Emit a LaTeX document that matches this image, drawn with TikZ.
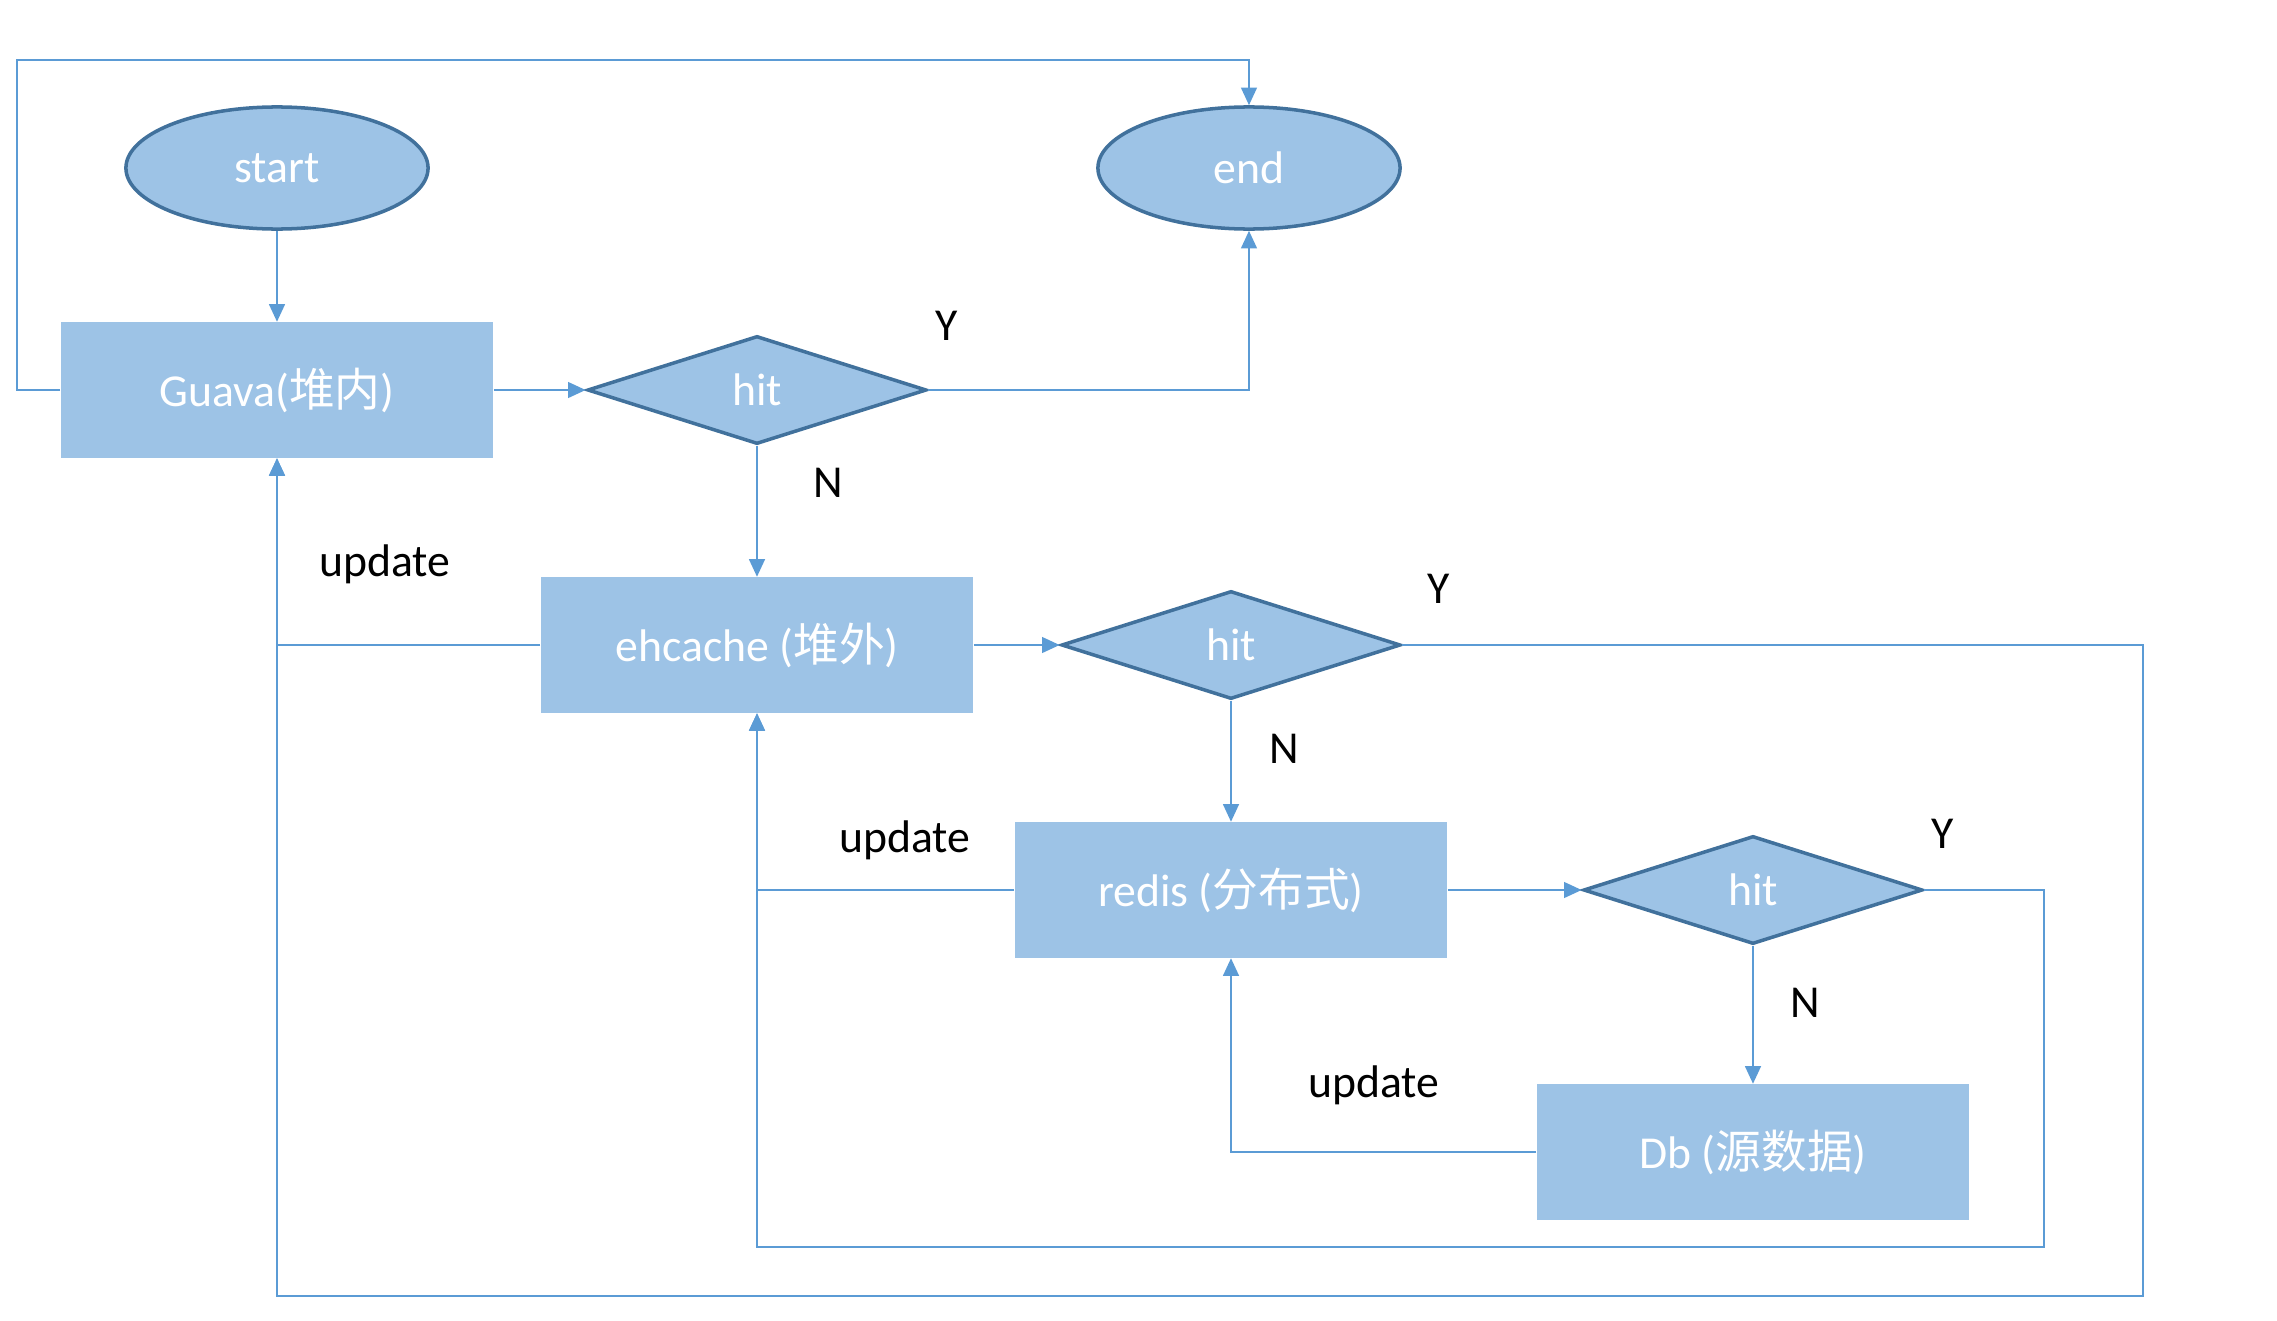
\documentclass[tikz,border=0pt]{standalone}
\usepackage{fontspec}
\setmainfont{Carlito}
\newfontfamily\cjk{Noto Sans CJK SC}
\usetikzlibrary{shapes.geometric,arrows.meta}
\definecolor{boxfill}{HTML}{9DC3E6}
\definecolor{boxline}{HTML}{41719C}
\definecolor{flowline}{HTML}{5B9BD5}
\tikzstyle{every picture} = [x=0.01cm, y=-0.01cm]
\tikzstyle{terminal} = [ellipse, draw=boxline, line width=1pt, fill=boxfill, text=white, minimum width=3.02cm, minimum height=1.22cm, font=\fontsize{13}{15}\selectfont]
\tikzstyle{box} = [rectangle, fill=boxfill, text=white, minimum width=4.32cm, minimum height=1.35cm, font=\fontsize{13}{15}\selectfont]
\tikzstyle{decision} = [diamond, draw=boxline, line width=1pt, fill=boxfill, text=white, inner sep=0pt, minimum width=3.39cm, minimum height=1.08cm, font=\fontsize{13}{15}\selectfont]
\tikzstyle{flow} = [draw=flowline, line width=0.5pt, -{Triangle[length=5pt,width=4.5pt]}]
\tikzstyle{mark label} = [text=black, font=\fontsize{13}{15}\selectfont]

\begin{document}
\begin{tikzpicture}
            \useasboundingbox (0,0) rectangle (2277,1321);

            \node (start) at(277,168) [terminal] {start};
            \node (end) at(1249,168) [terminal] {end};
            \node (guava) at(277,390) [box] {Guava({\cjk 堆内})};
            \node (hit 1) at(757,390) [decision] {hit};
            \node (ehcache) at(757,645) [box] {ehcache ({\cjk 堆外})};
            \node (hit 2) at(1231,645) [decision] {hit};
            \node (redis) at(1231,890) [box] {redis ({\cjk 分布式})};
            \node (hit 3) at(1753,890) [decision] {hit};
            \node (db) at(1753,1152) [box] {Db ({\cjk 源数据})};

            \coordinate (top left) at(17,60);
            \coordinate (outer loop) at(2143,1296);
            \coordinate (inner loop) at(2044,1247);

            \node (y 1) at(947,326) [mark label] {Y};
            \node (n 1) at(828,483) [mark label] {N};
            \node (update 1) at(385,564) [mark label] {update};
            \node (y 2) at(1439,589) [mark label] {Y};
            \node (n 2) at(1284,749) [mark label] {N};
            \node (update 2) at(905,840) [mark label] {update};
            \node (y 3) at(1943,834) [mark label] {Y};
            \node (n 3) at(1805,1003) [mark label] {N};
            \node (update 3) at(1374,1085) [mark label] {update};

            \path [flow] (start) -- (guava);
            \path [flow] (guava.east) -- (hit 1.west);
            \path [flow] (guava.west) -| (top left) -| (end.north);
            \path [flow] (hit 1.east) -| (end.south);
            \path [flow] (hit 1.south) -- (ehcache.north);
            \path [flow] (ehcache.east) -- (hit 2.west);
            \path [flow] (hit 2.south) -- (redis.north);
            \path [flow] (redis.east) -- (hit 3.west);
            \path [flow] (hit 3.south) -- (db.north);

            \path [flow] (ehcache.west) -| (guava.south);
            \path [flow] (hit 2.east) -| (outer loop) -| (guava.south);
            \path [flow] (redis.west) -| (ehcache.south);
            \path [flow] (hit 3.east) -| (inner loop) -| (ehcache.south);
            \path [flow] (db.west) -| (redis.south);

        \end{tikzpicture}
\end{document}
